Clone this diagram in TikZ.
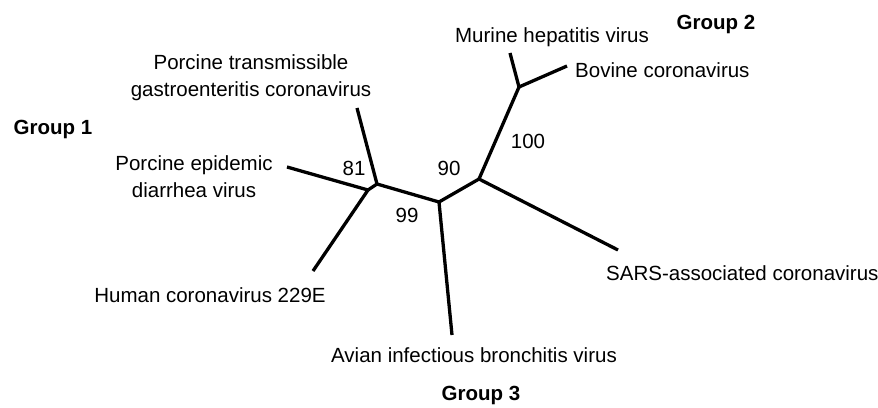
\documentclass[tikz,border=0pt]{standalone}
\usepackage{fontspec}
\setmainfont{Liberation Sans}
\begin{document}
\begin{tikzpicture}[x=1pt,y=-1pt,
  edge/.style={line width=3.3pt, line cap=butt, line join=round},
  lbl/.style={inner sep=0pt, anchor=base, align=center, font=\fontsize{20.5}{26.5}\selectfont},
  grp/.style={inner sep=0pt, anchor=base, font=\fontsize{20.5}{26}\selectfont\bfseries},
  boot/.style={inner sep=0pt, anchor=base, font=\fontsize{20.5}{26}\selectfont}]
\useasboundingbox (0,0) rectangle (878,407);
% internal nodes
\coordinate (A1) at (377,184);
\coordinate (A2) at (368,190);
\coordinate (B) at (439,202);
\coordinate (C) at (479,179);
\coordinate (D) at (519,87);
% leaves
\coordinate (T) at (357,108);
\coordinate (E) at (287,167);
\coordinate (H) at (313,271);
\coordinate (Av) at (452,335);
\coordinate (S) at (618,250);
\coordinate (M) at (510,53);
\coordinate (Bo) at (567,66);
% edges
\draw[edge] (T) -- (A1);
\draw[edge] (A1) -- (A2);
\draw[edge] (A2) -- (E);
\draw[edge] (A2) -- (H);
\draw[edge] (A1) -- (B);
\draw[edge] (B) -- (Av);
\draw[edge] (B) -- (C);
\draw[edge] (C) -- (S);
\draw[edge] (C) -- (D);
\draw[edge] (D) -- (M);
\draw[edge] (D) -- (Bo);
% labels
\node[grp] (g2) at (716,29) {Group 2};
\node[grp] (g1) at (53,134) {Group 1};
\node[grp] (g3) at (481,400) {Group 3};
\node[lbl] (lm) at (552,42) {Murine hepatitis virus};
\node[lbl, anchor=base west] (lbo) at (575,77) {Bovine coronavirus};
\node[lbl, anchor=base] (lt) at (251,96) {Porcine transmissible\\gastroenteritis coronavirus};
\node[lbl, anchor=base] (le) at (194,197) {Porcine epidemic\\diarrhea virus};
\node[lbl] (lh) at (210,302) {Human coronavirus 229E};
\node[lbl, anchor=base west] (ls) at (606,280) {SARS-associated coronavirus};
\node[lbl] (la) at (474,362) {Avian infectious bronchitis virus};
% bootstrap values
\node[boot] (b81) at (354,175) {81};
\node[boot] (b90) at (449,175) {90};
\node[boot] (b100) at (528,148) {100};
\node[boot] (b99) at (407,222) {99};
\end{tikzpicture}
\end{document}
